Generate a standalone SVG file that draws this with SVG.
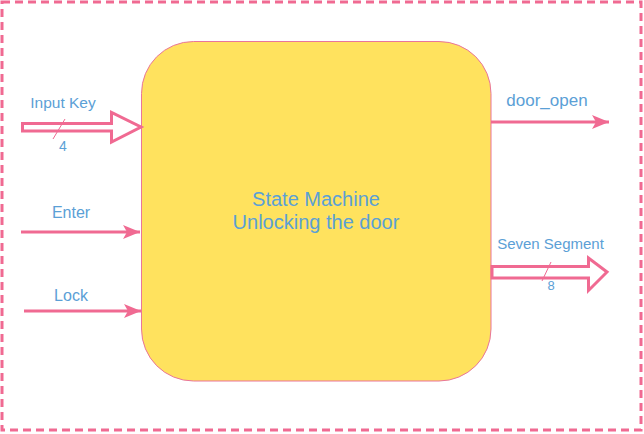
<svg xmlns="http://www.w3.org/2000/svg" width="644" height="434" viewBox="0 0 644 434">
<style>
.lbl{font-family:"Liberation Sans",Arial,sans-serif;fill:#5BA0D6;text-anchor:middle}
.wire{stroke:#F06A92;stroke-width:3;fill:none}
.bus{stroke:#F06A92;stroke-width:3;fill:#FFFFFF;stroke-linejoin:miter}
.tick{stroke:#F06A92;stroke-width:1;fill:none}
</style>
<defs>
<marker id="ah" markerUnits="userSpaceOnUse" markerWidth="18" markerHeight="16" viewBox="0 0 18 16" refX="17" refY="8" orient="auto">
<path d="M0,1 L17,8 L0,15 L4,8 z" fill="#F06A92"/>
</marker>
</defs>
<rect x="0" y="0" width="644" height="434" fill="#FFFFFF"/>
<g id="frame">
<rect x="2" y="2" width="639" height="428" fill="none" stroke="#F06A92" stroke-width="3" stroke-dasharray="8 5"/>
</g>
<g id="state-machine">
<rect x="141.5" y="41.5" width="349.5" height="339.5" rx="52" ry="52" fill="#FFE25E" stroke="#E9759A" stroke-width="1"/>
<text class="lbl" x="316" y="206" font-size="20">State Machine</text>
<text class="lbl" x="316" y="229" font-size="20">Unlocking the door</text>
</g>
<g id="connectors">
<path class="bus" d="M22.5,123.5 L111.5,123.5 L111.5,112.5 L141,127 L111.5,142 L111.5,131 L22.5,131 Z"/>
<line class="tick" x1="53" y1="139" x2="65" y2="119"/>
<line class="wire" x1="21" y1="232" x2="140" y2="232" marker-end="url(#ah)"/>
<line class="wire" x1="24" y1="311" x2="141" y2="311" marker-end="url(#ah)"/>
<line class="wire" x1="491" y1="122" x2="609" y2="122" marker-end="url(#ah)"/>
<path class="bus" d="M492,266.5 L588.5,266.5 L588.5,258 L607,272 L588.5,290.5 L588.5,278 L492,278 Z"/>
<line class="tick" x1="542" y1="281" x2="551" y2="262"/>
</g>
<g id="labels">
<text class="lbl" x="63" y="108" font-size="15.5">Input Key</text>
<text class="lbl" x="63" y="151" font-size="14">4</text>
<text class="lbl" x="71" y="218" font-size="16">Enter</text>
<text class="lbl" x="71" y="301" font-size="16">Lock</text>
<text class="lbl" x="547" y="106" font-size="17">door_open</text>
<text class="lbl" x="550.5" y="249" font-size="15">Seven Segment</text>
<text class="lbl" x="551" y="290" font-size="13">8</text>
</g>
</svg>
